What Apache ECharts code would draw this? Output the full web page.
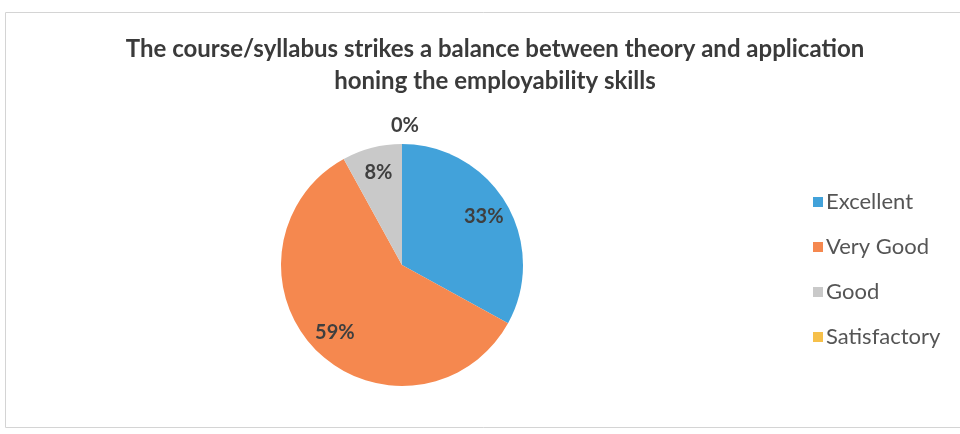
<!DOCTYPE html>
<html><head><meta charset="utf-8">
<script src="https://cdn.jsdelivr.net/npm/echarts@6/dist/echarts.min.js"></script>
<style>html,body{margin:0;padding:0;background:#fff}#c{width:960px;height:434px}</style>
</head><body><div id="c"></div>
<script>
const titleLines = ['The course/syllabus strikes a balance between theory and application', 'honing the employability skills'];
const categories = ['Excellent', 'Very Good', 'Good', 'Satisfactory'];
const values = [33, 59, 8, 0];
const colors = ['#42a2da', '#f5884f', '#c9c9c9', '#f6c04a'];

const data = categories.map((n, i) => ({ name: n, value: values[i], itemStyle: { color: colors[i] } }));
const font = 'Lato';
const chart = echarts.init(document.getElementById('c'));
chart.setOption({
  animation: false,
  title: {
    text: titleLines.join('\n'), left: 490, textAlign: 'center', top: 28,
    textStyle: { fontFamily: font, fontWeight: 'bold', fontSize: 24, color: '#3a3a3a', lineHeight: 32 }
  },
  legend: {
    orient: 'vertical', left: 808, top: 186, icon: 'rect', itemWidth: 10, itemHeight: 10, itemGap: 23,
    data: categories,
    textStyle: { fontFamily: font, fontSize: 22, lineHeight: 20, color: '#555555', padding: [0, 0, 0, -2] }
  },
  graphic: [{ type: 'rect', silent: true, shape: { x: 5.5, y: 12.5, width: 1000, height: 415 },
    style: { fill: 'none', stroke: '#d4d4d4', lineWidth: 1 } }],
  series: [{
    type: 'pie', center: [402, 265], radius: [0, 121], startAngle: 90, clockwise: true,
    data: data, label: { show: false }, labelLine: { show: false }, silent: true
  }, {
    type: 'pie', center: [402, 265], radius: [63, 121], startAngle: 90, clockwise: true, silent: true,
    legendHoverLink: false,
    data: data.map((d) => ({ name: d.name, value: d.value, itemStyle: { color: 'rgba(0,0,0,0)' },
      label: d.value === 0 ? { position: 'outside', distanceToLabelLine: -11 } : { position: 'inside' },
      labelLine: { show: false, length: 18, length2: 0 } })),
    label: { show: true, formatter: p => p.value + '%', fontFamily: font, fontWeight: 'bold', fontSize: 20, color: '#3f3f3f' },
    labelLine: { show: false }
  }]
});
</script></body></html>
